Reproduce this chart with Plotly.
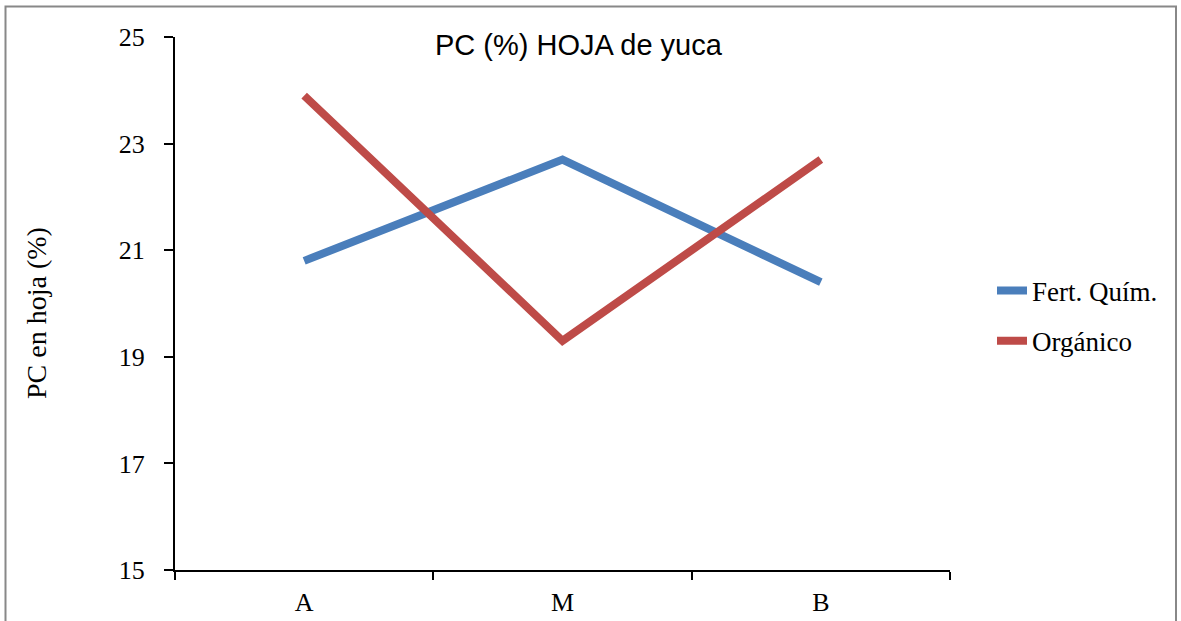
import plotly.graph_objects as go

categories = ["A", "M", "B"]
fert_quim = [20.8, 22.7, 20.4]
organico = [23.9, 19.3, 22.7]
y_ticks = [15, 17, 19, 21, 23, 25]

W, H = 1181, 621
L, R, T, B = 175, 231, 37, 51
pw, ph = W - L - R, H - T - B

def px_x(p):
    return (p - L) / pw

def px_y(p):
    return (H - B - p) / ph

serif = "Liberation Serif"

fig = go.Figure()
fig.add_trace(go.Scatter(x=categories, y=fert_quim, mode="lines", name="Fert. Quím.",
                         line=dict(color="#4A7EBB", width=8), legendgroup="a"))
fig.add_trace(go.Scatter(x=categories, y=organico, mode="lines", name="Orgánico",
                         line=dict(color="#BE4B48", width=8), legendgroup="b"))

fig.update_layout(
    width=W, height=H,
    margin=dict(l=L, r=R, t=T, b=B, autoexpand=False),
    paper_bgcolor="white", plot_bgcolor="white",
    showlegend=True,
    legend=dict(x=px_x(992), y=px_y(316), xanchor="left", yanchor="middle",
                font=dict(family=serif, size=27, color="black"),
                tracegroupgap=12, bgcolor="rgba(0,0,0,0)"),
    xaxis=dict(type="category", range=[-0.5, 2.5], tickson="boundaries",
               ticks="outside", ticklen=8, tickwidth=2, tickcolor="black",
               showline=True, linecolor="black", linewidth=2, showgrid=False,
               automargin=False,
               tickfont=dict(family=serif, size=26, color="black"), ticklabelstandoff=8),
    yaxis=dict(range=[15, 25], tickvals=y_ticks, ticks="outside", ticklen=9, tickwidth=2,
               tickcolor="black", showline=True, linecolor="black", linewidth=2,
               showgrid=False, zeroline=False, automargin=False,
               tickfont=dict(family=serif, size=26, color="black"), ticklabelstandoff=14),
    annotations=[
        dict(text="PC (%) HOJA de yuca", xref="paper", yref="paper",
             x=px_x(579), y=px_y(45), xanchor="center", yanchor="middle", showarrow=False,
             font=dict(family="Liberation Sans", size=29, color="black")),
        dict(text="PC en hoja (%)", xref="paper", yref="paper",
             x=px_x(36), y=px_y(313), xanchor="center", yanchor="middle", showarrow=False,
             textangle=-90, font=dict(family=serif, size=28, color="black")),
    ],
    shapes=[
        dict(type="rect", xref="paper", yref="paper",
             x0=px_x(5.5), x1=px_x(1176), y0=px_y(6.5), y1=px_y(640),
             line=dict(color="#888888", width=2), fillcolor="rgba(0,0,0,0)", layer="below"),
    ],
)

fig.write_html("out.html")
